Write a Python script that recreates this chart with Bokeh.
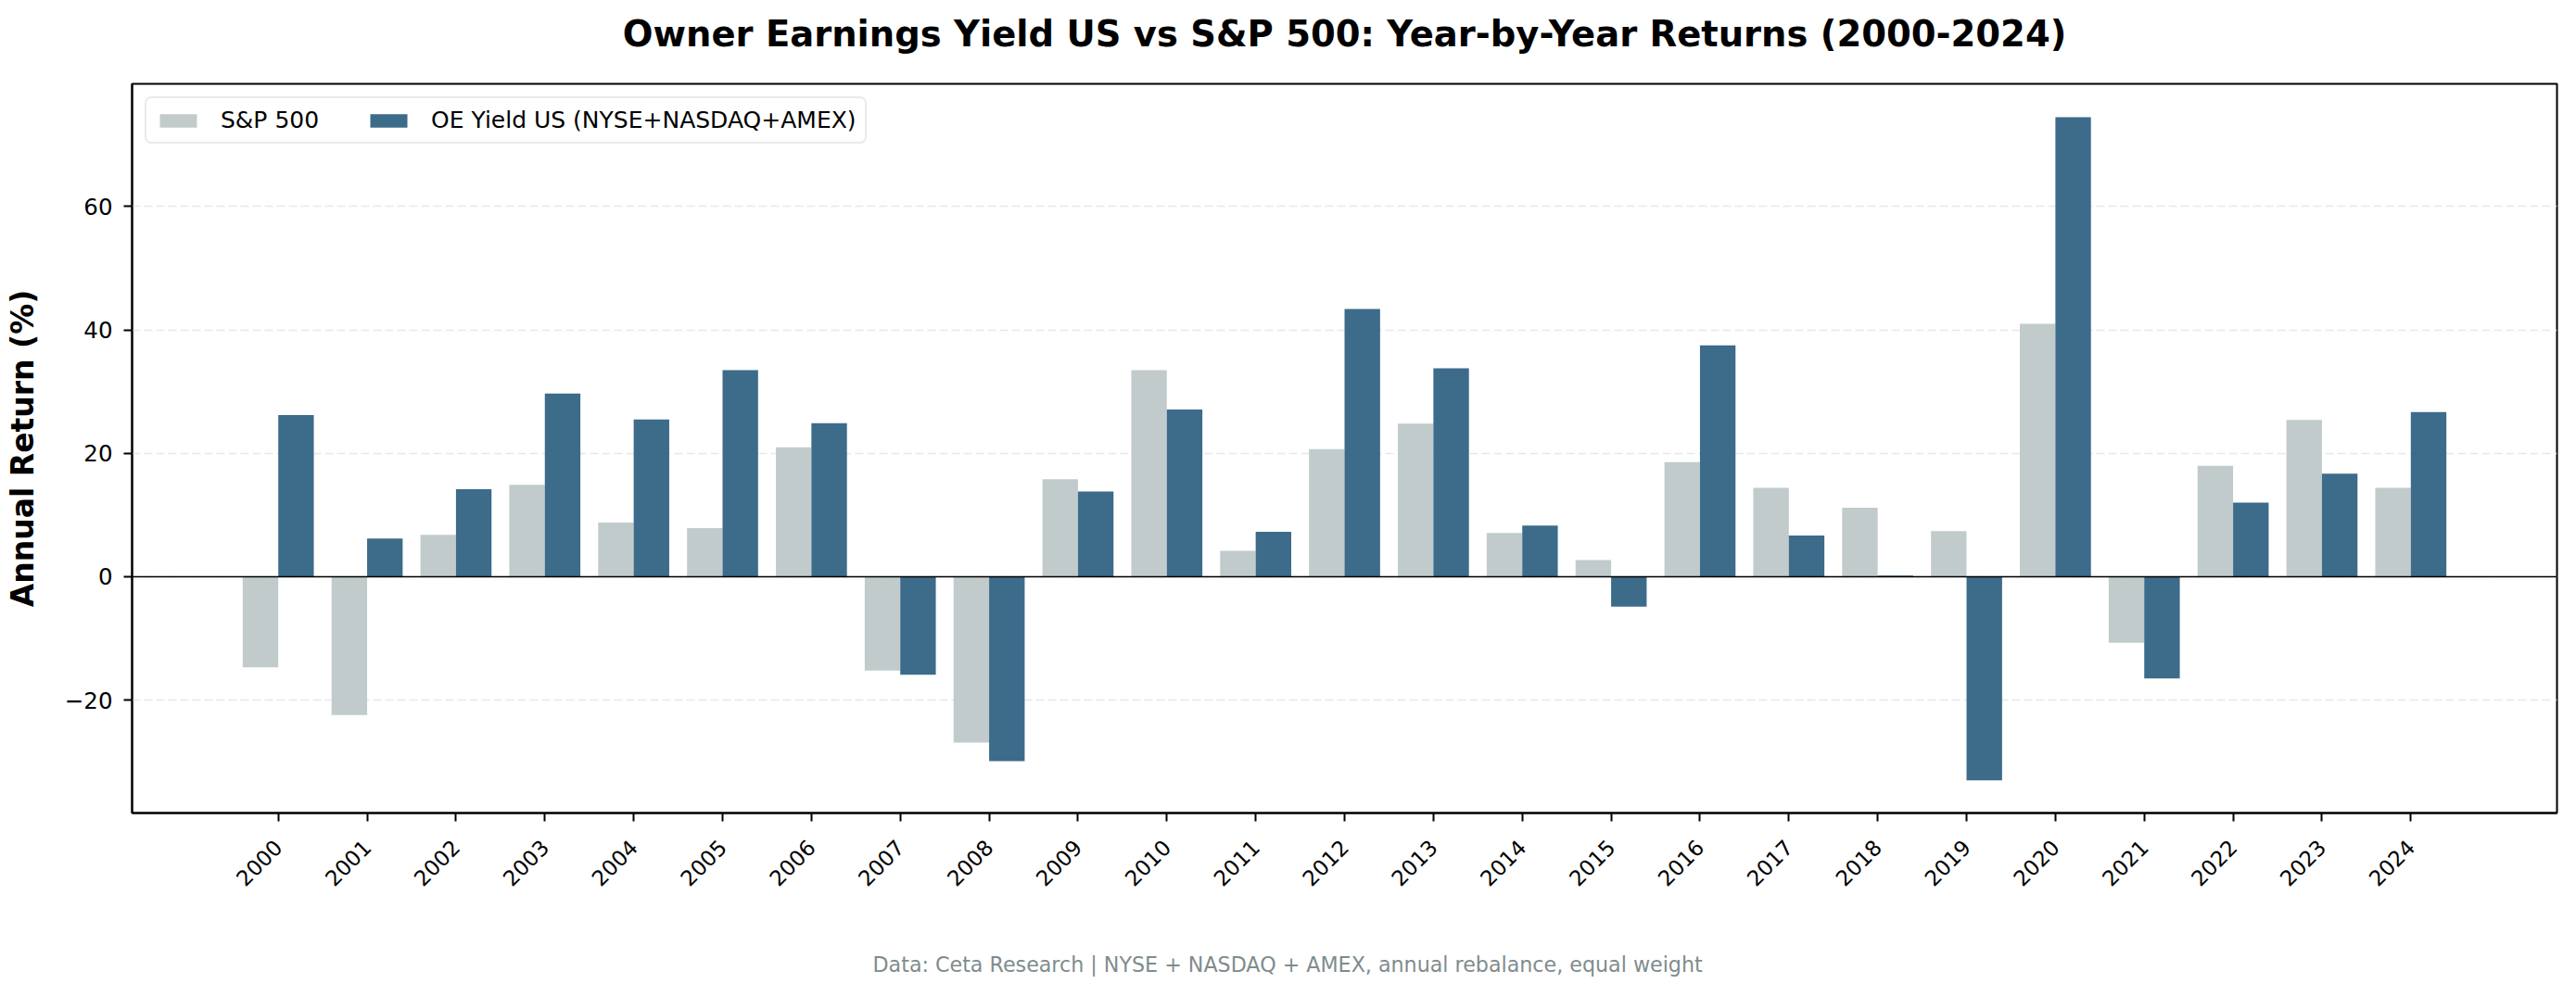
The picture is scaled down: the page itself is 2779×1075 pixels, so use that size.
import math
from bokeh.plotting import figure
from bokeh.models import (Range1d, FixedTicker, Span, Legend, LegendItem, Title,
                          ColumnDataSource)
from bokeh.transform import dodge
from bokeh.embed import file_html
from bokeh.resources import INLINE

years = list(range(2000, 2025))
sp500 = [-14.7, -22.4, 6.8, 14.9, 8.8, 7.9, 21.0, -15.2, -26.9, 15.8, 33.5, 4.2, 20.7,
         24.8, 7.1, 2.7, 18.6, 14.4, 11.2, 7.4, 41.0, -10.7, 18.0, 25.4, 14.4]
oe_yield = [26.2, 6.2, 14.2, 29.7, 25.5, 33.5, 24.9, -15.9, -29.9, 13.8, 27.1, 7.3, 43.4,
            33.8, 8.3, -4.85, 37.5, 6.7, 0.2, -33.0, 74.5, -16.5, 12.0, 16.7, 26.7]
y_ticks = [-20, 0, 20, 40, 60]
y_tick_labels = ["\u221220", "0", "20", "40", "60"]
series_names = ["S&P 500", "OE Yield US (NYSE+NASDAQ+AMEX)"]
title_text = "Owner Earnings Yield US vs S&P 500: Year-by-Year Returns (2000-2024)"
footer_text = "Data: Ceta Research | NYSE + NASDAQ + AMEX, annual rebalance, equal weight"

FONT = "DejaVu Sans"
SP_COLOR = "#c2cbcc"
OE_COLOR = "#3d6b8a"

src = ColumnDataSource(dict(year=years, sp=sp500, oe=oe_yield))

p = figure(width=2763, height=1059, output_backend="svg", toolbar_location=None,
           title=None,
           x_range=Range1d(1998.355, 2025.645), y_range=Range1d(-38.3, 79.9),
           min_border_left=142, min_border_right=5, min_border_top=90,
           min_border_bottom=182)
p.background_fill_color = "white"
p.border_fill_color = "white"
p.outline_line_color = "black"
p.outline_line_width = 2

r1 = p.vbar(x=dodge("year", -0.2), top="sp", bottom=0, width=0.4, source=src,
            fill_color=SP_COLOR, line_color=None)
r2 = p.vbar(x=dodge("year", 0.2), top="oe", bottom=0, width=0.4, source=src,
            fill_color=OE_COLOR, line_color=None)

p.add_layout(Span(location=0, dimension="width", line_color="black", line_width=1.6))

p.xgrid.visible = False
p.ygrid.ticker = FixedTicker(ticks=y_ticks)
p.ygrid.grid_line_color = "#e8e8e8"
p.ygrid.grid_line_dash = "9 4"
p.ygrid.grid_line_width = 1.6

for ax in (p.xaxis[0], p.yaxis[0]):
    ax.axis_line_color = "black"
    ax.axis_line_width = 2
    ax.major_tick_line_color = "black"
    ax.major_tick_line_width = 2
    ax.major_tick_out = 9
    ax.major_tick_in = 0
    ax.minor_tick_out = 0
    ax.minor_tick_in = 0
    ax.major_label_text_font = FONT
    ax.major_label_text_color = "black"

p.yaxis.ticker = FixedTicker(ticks=y_ticks)
p.yaxis.major_label_overrides = dict(zip(y_ticks, y_tick_labels))
p.yaxis.major_label_text_font_size = "24.5px"
p.yaxis.major_label_standoff = 12
p.yaxis.axis_label = "Annual Return (%)"
p.yaxis.axis_label_text_font = FONT
p.yaxis.axis_label_text_font_size = "33px"
p.yaxis.axis_label_text_font_style = "bold"
p.yaxis.axis_label_text_color = "black"
p.yaxis.axis_label_standoff = 23

p.xaxis.ticker = FixedTicker(ticks=years)
p.xaxis.major_label_orientation = math.pi / 4
p.xaxis.major_label_text_font_size = "23px"
p.xaxis.major_label_standoff = 24

legend = Legend(items=[LegendItem(label=series_names[0], renderers=[r1]),
                       LegendItem(label=series_names[1], renderers=[r2])],
                location="top_left", orientation="horizontal", margin=14, padding=9,
                spacing=50, glyph_width=50, glyph_height=18, label_standoff=21,
                label_text_font=FONT, label_text_font_size="25px",
                label_text_color="black",
                border_line_color="#d6d6d6", border_line_width=2.5,
                background_fill_alpha=0.8)
if "border_radius" in Legend.properties():
    legend.border_radius = 7
p.add_layout(legend)

# spacing panels: first added sits next to the frame
p.add_layout(Title(text=" ", text_font_size="26.6px", standoff=0), "above")
p.add_layout(Title(text=title_text, align="center", standoff=0, text_font=FONT,
                   text_font_size="38.5px", text_font_style="bold",
                   text_color="black"), "above")

p.add_layout(Title(text=" ", text_font_size="51px", standoff=0), "below")
p.add_layout(Title(text=footer_text, align="left", offset=799, standoff=0,
                   text_font=FONT, text_font_size="22.2px", text_font_style="normal",
                   text_color="#7f8c8d"), "below")

open("out.html", "w").write(file_html(p, INLINE))
